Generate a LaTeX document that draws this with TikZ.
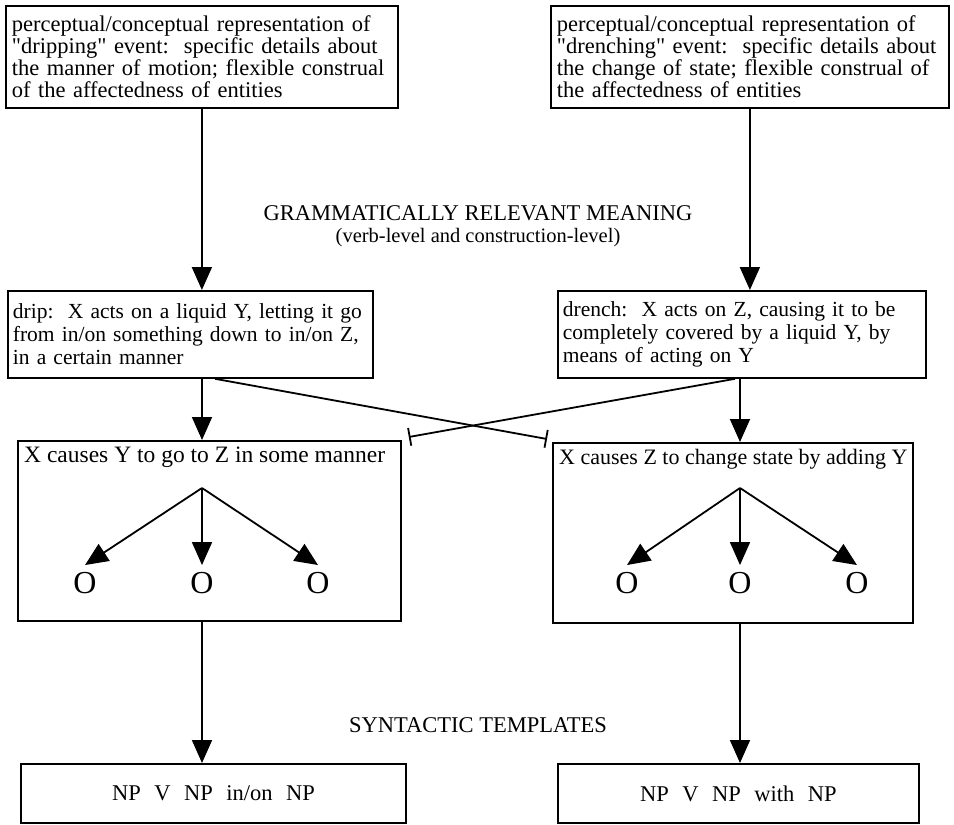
\documentclass[tikz,border=0pt]{standalone}
\usepackage{fontspec}
\setmainfont{Liberation Serif}
\usetikzlibrary{arrows.meta,calc}

\tikzset{
  frame/.style={draw, line width=1.8pt, anchor=north west, inner sep=0pt},
  desc/.style={frame, align=left, inner xsep=6pt, inner ysep=4pt, font=\fontsize{22.5}{22}\selectfont},
  title/.style={anchor=north west, inner xsep=7pt, inner ysep=7pt, font=\fontsize{22.5}{22}\selectfont},
  caption/.style={align=center, font=\fontsize{22.5}{22}\selectfont},
  slot/.style={inner sep=7pt, font=\fontsize{32}{32}\selectfont},
  flow/.style={line width=1.8pt, -{Triangle[width=20pt,length=23pt]}},
  block/.style={line width=1.8pt, -{Bar[width=18pt]}},
}

\begin{document}
\begin{tikzpicture}[x=1pt, y=-1pt]
\useasboundingbox (0,0) rectangle (954,825);
\coordinate (colL) at (202,0);
\coordinate (colR) at (740,0);

% perceptual/conceptual level
\node[desc, text width=380pt, minimum height=102pt] (percDrip) at (5,5)
  {perceptual/conceptual representation of\\ \textquotedbl dripping\textquotedbl{} event:\ \ specific details about\\ the manner of motion; flexible construal\\ of the affectedness of entities};
\node[desc, text width=386pt, minimum height=102pt] (percDrench) at (550,5)
  {perceptual/conceptual representation of\\ \textquotedbl drenching\textquotedbl{} event:\ \ specific details about\\ the change of state; flexible construal of\\ the affectedness of entities};

\node[caption] (gramLabel) at (478,226) {GRAMMATICALLY RELEVANT MEANING\\ \fontsize{20.5}{22}\selectfont(verb-level and construction-level)};

% verb level
\node[desc, text width=355pt, minimum height=87pt, inner xsep=5pt, font=\fontsize{21.5}{23}\selectfont] (verbDrip) at (7,290)
  {drip:\ \ X acts on a liquid Y, letting it go\\ from in/on something down to in/on Z,\\ in a certain manner};
\node[desc, text width=358pt, minimum height=87pt, inner xsep=5pt, font=\fontsize{21.5}{23}\selectfont] (verbDrench) at (557,290)
  {drench:\ \ X acts on Z, causing it to be\\ completely covered by a liquid Y, by\\ means of acting on Y};

\draw[flow] (percDrip.south) -- (percDrip.south |- verbDrip.north);
\draw[flow] (percDrench.south) -- (percDrench.south |- verbDrench.north);

% construction level
\node[frame, minimum width=383pt, minimum height=180pt] (consMotion) at (17,440) {};
\node[title, font=\fontsize{23.5}{22}\selectfont] (motionTitle) at (consMotion.north west) {X causes Y to go to Z in some manner};
\node[frame, minimum width=360pt, minimum height=180pt] (consState) at (552,442) {};
\node[title, font=\fontsize{22}{22}\selectfont] (stateTitle) at (consState.north west) {X causes Z to change state by adding Y};

\draw[flow] (colL |- verbDrip.south) -- (colL |- consMotion.north);
\draw[flow] (colR |- verbDrench.south) -- (colR |- consState.north);
\draw[block] ($(colL |- verbDrip.south)+(13,0)$) -- ([shift={(-5,-3)}]consState.north west);
\draw[block] ($(colR |- verbDrench.south)+(-5,0)$) -- ([shift={(7,-3)}]consMotion.north east);

% slots
\coordinate (apexL) at (202,488);
\node[slot] (oL1) at (85,583) {O};
\node[slot] (oL2) at (202,583) {O};
\node[slot] (oL3) at (318,583) {O};
\coordinate (apexR) at (740,488);
\node[slot] (oR1) at (627,583) {O};
\node[slot] (oR2) at (740,583) {O};
\node[slot] (oR3) at (857,583) {O};
\foreach \o in {oL1,oL2,oL3} \draw[flow] (apexL) -- (\o.north);
\foreach \o in {oR1,oR2,oR3} \draw[flow] (apexR) -- (\o.north);

\node[caption] (syntLabel) at (478,725) {SYNTACTIC TEMPLATES};

% syntactic templates
\node[frame, minimum width=385pt, minimum height=59pt, font=\fontsize{22.5}{22}\selectfont] (tmplMotion) at (20,763)
  {NP\hspace{.6em}V\hspace{.6em}NP\hspace{.6em}in/on\hspace{.6em}NP};
\node[frame, minimum width=361pt, minimum height=59pt, font=\fontsize{22.5}{22}\selectfont] (tmplState) at (557,763)
  {NP\hspace{.6em}V\hspace{.6em}NP\hspace{.6em}with\hspace{.6em}NP};

\draw[flow] (colL |- consMotion.south) -- (colL |- tmplMotion.north);
\draw[flow] (colR |- consState.south) -- (colR |- tmplState.north);
\end{tikzpicture}
\end{document}
